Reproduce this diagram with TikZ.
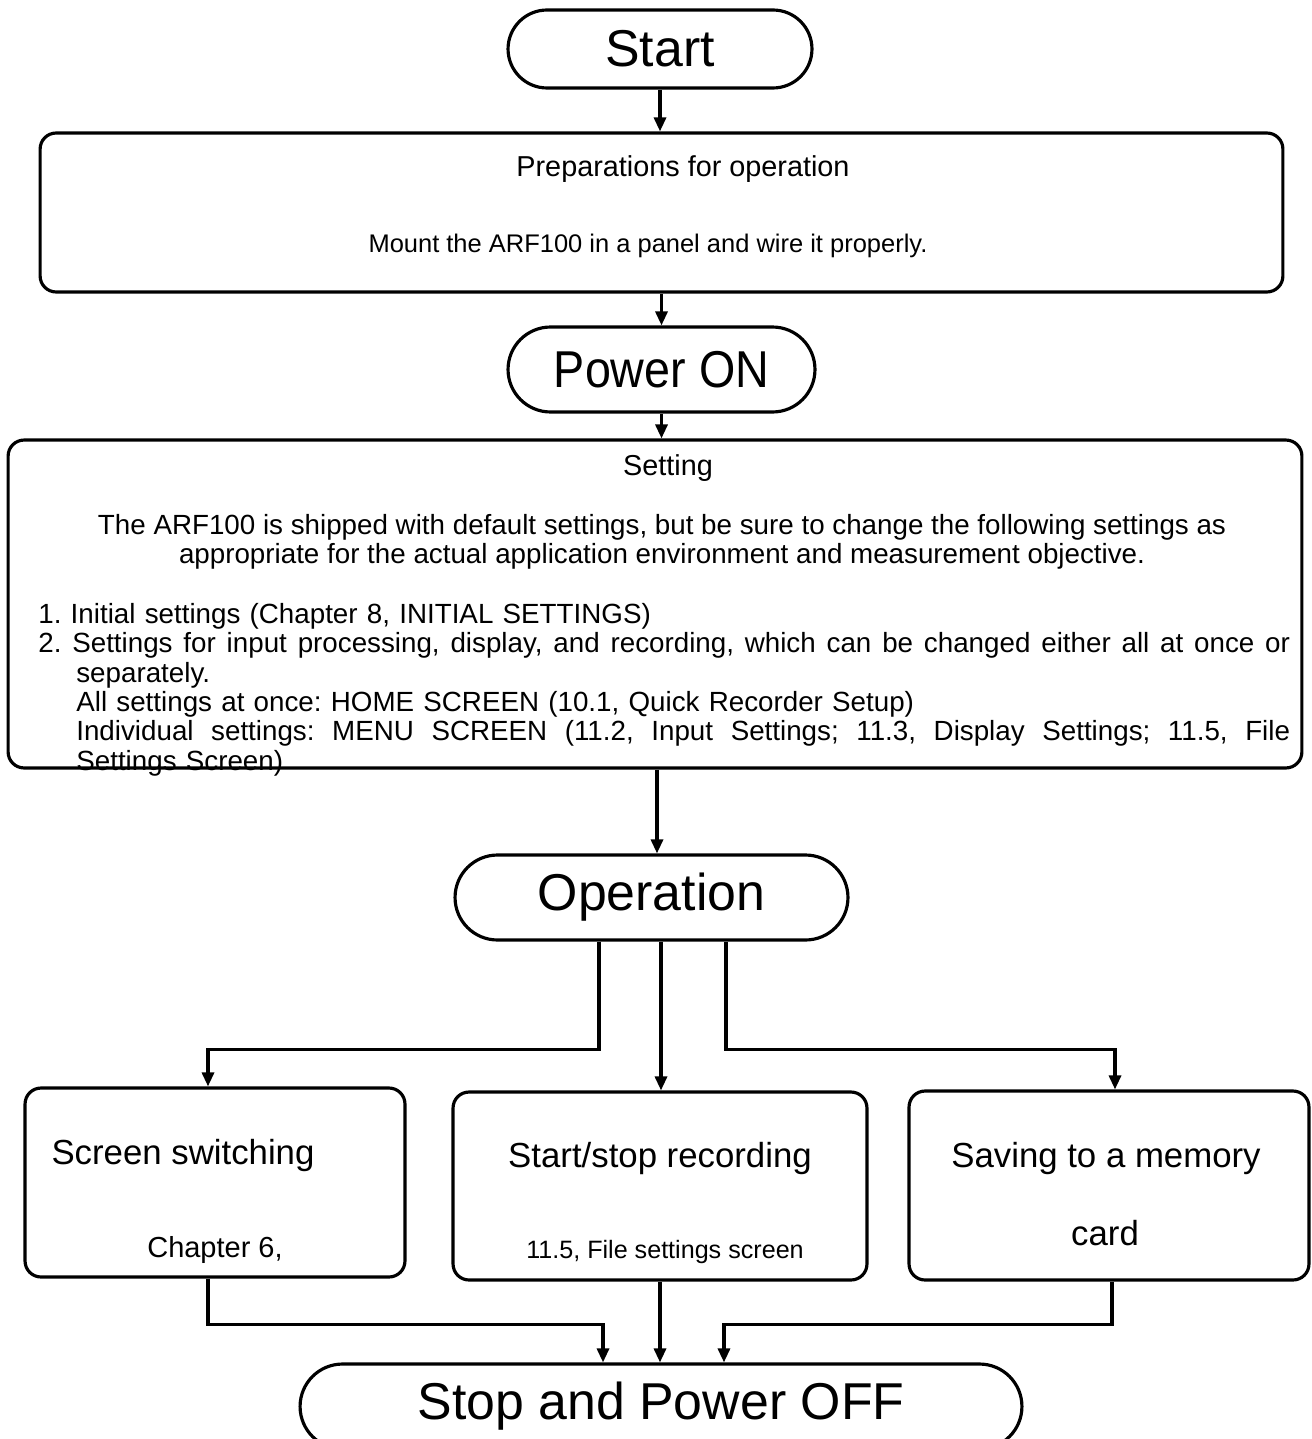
\documentclass[tikz,border=0pt]{standalone}
\usepackage{fontspec}
\setmainfont{Liberation Sans}
\usetikzlibrary{shapes.misc, arrows.meta, positioning}
\frenchspacing

\begin{document}
\begin{tikzpicture}[x=0.02cm, y=-0.02cm]

        % Setup the styles for the boxes and arrows
        \tikzset{terminal/.style={rounded rectangle,
                                  draw,
                                  line width=1.8pt,
                                  inner sep=0pt,
                                  font=\fontsize{29.5}{34}\selectfont},
                 stepbox/.style={rectangle,
                                 draw,
                                 rounded corners=0.32cm,
                                 line width=1.8pt},
                 flow/.style={line width=1.8pt,
                              -{Triangle[length=0.28cm, width=0.24cm]}},
                 title/.style={inner sep=0pt, font=\fontsize{16.4}{19}\selectfont},
                 body/.style={inner sep=0pt, font=\fontsize{15.8}{16.7}\selectfont},
                 label/.style={inner sep=0pt, font=\fontsize{19.8}{23}\selectfont},
                 note/.style={inner sep=0pt, font=\fontsize{14.3}{17}\selectfont}}

        \useasboundingbox (0,0) rectangle (1311,1439);
        \clip (0,0) rectangle (1311,1439);

        % Draw the terminals and boxes
        \node[terminal, minimum width=6.08cm, minimum height=1.56cm] at (660,49)     (start)  {Start};
        \node[stepbox, minimum width=24.86cm, minimum height=3.18cm] at (661.5,212.5) (prep)  {};
        \node[terminal, minimum width=6.14cm, minimum height=1.7cm]  at (661.5,369.5) (pon)   {\scalebox{0.9}[1]{Power ON}};
        \node[stepbox, minimum width=25.88cm, minimum height=6.56cm] at (655,604)     (setting) {};
        \node[terminal, minimum width=7.86cm, minimum height=1.7cm]  at (651.5,897.5) (op)    {Operation};
        \node[stepbox, minimum width=7.6cm, minimum height=3.78cm]   at (215,1182.5)  (screen) {};
        \node[stepbox, minimum width=8.28cm, minimum height=3.76cm]  at (660,1186)    (stst)   {};
        \node[stepbox, minimum width=8cm, minimum height=3.78cm]     at (1109,1185.5) (save)   {};
        \node[terminal, minimum width=14.44cm, minimum height=1.7cm] at (661,1406.5)  (stop)   {Stop and Power OFF};

        % Texts of the boxes
        \node[title] at (683,169) (preptitle) {Preparations for operation};
        \node[body, font=\fontsize{14.5}{17}\selectfont] at (648,246) (prepbody) {Mount the ARF100 in a panel and wire it properly.};
        \node[title] at (668,468) (settitle) {Setting};
        \node[body, align=center] at (662,542) (setintro)
            {The ARF100 is shipped with default settings, but be sure to change the following settings as\\
             appropriate for the actual application environment and measurement objective.};
        \node[body, anchor=north west, text width=25.04cm, align=left] at (38,603) (setsteps)
            {1. Initial settings (Chapter 8, INITIAL SETTINGS)\\
             \makebox[25.04cm][s]{\spaceskip=0pt 2. Settings for input processing, display, and recording, which can be changed either all at once or}\\
             \hspace*{0.76cm}separately.\\
             \hspace*{0.76cm}All settings at once: HOME SCREEN (10.1, Quick Recorder Setup)\\
             \hspace*{0.76cm}\makebox[24.28cm][s]{\spaceskip=0pt Individual settings: MENU SCREEN (11.2, Input Settings; 11.3, Display Settings; 11.5, File}\\
             \hspace*{0.76cm}Settings Screen)};
        \node[label] at (183,1155) (screentxt) {Screen switching};
        \node[note, font=\fontsize{16.5}{19}\selectfont] at (215,1250) (screennote) {Chapter 6,};
        \node[label] at (660,1158) (ststtxt) {Start/stop recording};
        \node[note]  at (665,1252) (ststnote) {11.5, File settings screen};
        \node[label] at (1106,1158) (savetxt) {Saving to a memory};
        \node[label] at (1105,1233) (savetxt2) {card};

        % Connect the boxes with arrows
        \draw[flow] (start.south) -- (start.south |- prep.north);
        \draw[flow] (prep.south -| pon.north) -- (pon.north);
        \draw[flow] (pon.south) -- (pon.south |- setting.north);
        \draw[flow] ([xshift=0.04cm]setting.south) -- ([xshift=0.04cm]setting.south |- op.north);
        \draw[flow] ([xshift=-1.05cm]op.south) -- ++(0,108) -| ([xshift=-0.14cm]screen.north);
        \draw[flow] ([xshift=0.19cm]op.south) -- ([xshift=0.19cm]op.south |- stst.north);
        \draw[flow] ([xshift=1.49cm]op.south) -- ++(0,108) -| ([xshift=0.12cm]save.north);
        \draw[flow] ([xshift=-0.14cm]screen.south) -- ++(0,46) -| ([xshift=-1.16cm]stop.north);
        \draw[flow] (stst.south) -- (stst.south |- stop.north);
        \draw[flow] ([xshift=0.06cm]save.south) -- ++(0,43) -| ([xshift=1.26cm]stop.north);
    \end{tikzpicture}
\end{document}
